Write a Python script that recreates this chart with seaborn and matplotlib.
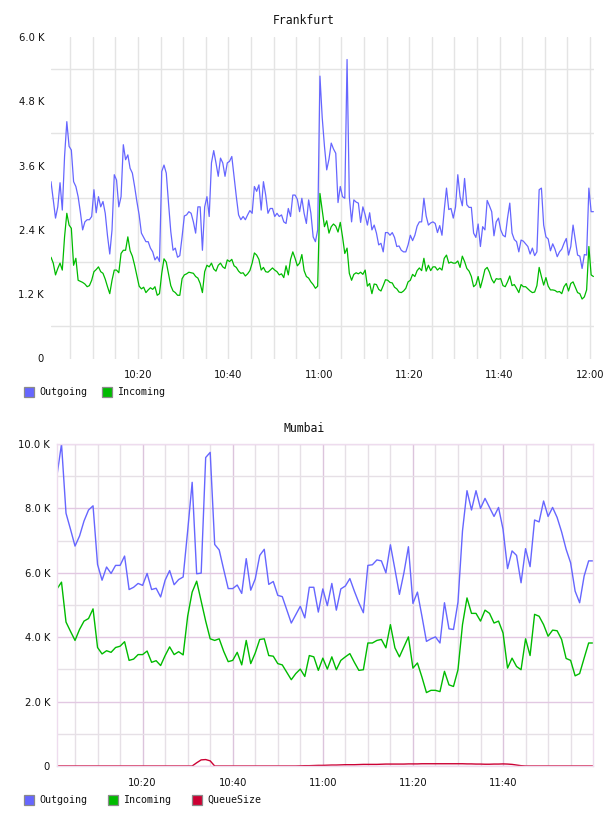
import numpy as np
import pandas as pd
import matplotlib
matplotlib.use("Agg")
import matplotlib.pyplot as plt
import matplotlib.dates as mdates
from matplotlib.patches import Rectangle
from matplotlib.ticker import FuncFormatter
import seaborn as sns

sns.set_theme(style="white")
plt.rcParams['font.family'] = ['DejaVu Sans']

# ---------------- data ----------------
# Frankfurt: 30-second samples starting 10:00:45 (values in K)
fr_start = "2024-01-01 10:00:45"
fr_outgoing = [
    3.30, 2.96, 2.62, 2.83, 3.28, 2.77, 3.77, 4.42, 3.96, 3.89,
    3.30, 3.21, 3.02, 2.73, 2.40, 2.55, 2.59, 2.59, 2.65, 3.15,
    2.72, 3.02, 2.83, 2.93, 2.71, 2.29, 1.95, 2.40, 3.43, 3.33,
    2.83, 3.02, 3.99, 3.71, 3.80, 3.55, 3.46, 3.21, 2.93, 2.68,
    2.34, 2.26, 2.18, 2.18, 2.06, 1.99, 1.84, 1.90, 1.81, 3.49,
    3.61, 3.46, 2.90, 2.37, 2.02, 2.06, 1.89, 1.92, 2.27, 2.66,
    2.68, 2.74, 2.71, 2.55, 2.34, 2.83, 2.83, 2.02, 2.83, 3.02,
    2.65, 3.65, 3.88, 3.65, 3.40, 3.74, 3.65, 3.40, 3.65, 3.68,
    3.77, 3.40, 3.02, 2.68, 2.59, 2.65, 2.59, 2.68, 2.76, 2.71,
    3.21, 3.12, 3.24, 2.77, 3.30, 3.05, 2.71, 2.80, 2.80, 2.65,
    2.71, 2.65, 2.68, 2.55, 2.52, 2.80, 2.65, 3.05, 3.05, 2.97,
    2.74, 2.99, 2.71, 2.52, 2.96, 2.71, 2.27, 2.18, 2.40, 5.27,
    4.50, 3.96, 3.52, 3.72, 4.02, 3.91, 3.83, 2.91, 3.21, 3.02,
    2.99, 5.58, 3.02, 2.55, 2.96, 2.92, 2.90, 2.54, 2.83, 2.68,
    2.49, 2.72, 2.40, 2.49, 2.34, 2.12, 2.15, 1.99, 2.35, 2.35,
    2.30, 2.35, 2.26, 2.09, 2.10, 2.02, 1.99, 1.99, 2.12, 2.30,
    2.20, 2.30, 2.47, 2.55, 2.55, 2.99, 2.66, 2.49, 2.53, 2.55,
    2.52, 2.35, 2.48, 2.30, 2.77, 3.18, 2.78, 2.80, 2.62, 2.83,
    3.43, 3.02, 2.85, 3.36, 2.87, 2.82, 2.82, 2.34, 2.26, 2.51,
    2.09, 2.46, 2.40, 2.95, 2.85, 2.74, 2.29, 2.55, 2.62, 2.40,
    2.30, 2.27, 2.62, 2.90, 2.34, 2.22, 2.18, 1.99, 2.21, 2.19,
    2.14, 2.09, 1.95, 2.06, 1.92, 1.99, 3.15, 3.18, 2.49, 2.27,
    2.23, 2.01, 2.14, 2.04, 1.90, 1.99, 2.04, 2.15, 2.24, 1.93,
    2.09, 2.49, 2.21, 1.93, 1.91, 1.68, 1.94, 1.93, 3.18, 2.74,
    2.74,
]
fr_incoming = [
    1.89, 1.78, 1.56, 1.68, 1.78, 1.65, 2.27, 2.71, 2.49, 2.43,
    1.74, 1.87, 1.46, 1.44, 1.42, 1.39, 1.34, 1.36, 1.46, 1.62,
    1.66, 1.71, 1.62, 1.59, 1.48, 1.34, 1.21, 1.46, 1.65, 1.65,
    1.60, 1.96, 2.02, 2.02, 2.27, 2.01, 1.91, 1.74, 1.54, 1.35,
    1.30, 1.33, 1.23, 1.28, 1.32, 1.29, 1.34, 1.18, 1.21, 1.59,
    1.86, 1.80, 1.58, 1.36, 1.26, 1.23, 1.18, 1.18, 1.49, 1.56,
    1.58, 1.61, 1.60, 1.59, 1.53, 1.50, 1.40, 1.23, 1.62, 1.74,
    1.71, 1.78, 1.67, 1.63, 1.74, 1.78, 1.71, 1.68, 1.84, 1.81,
    1.85, 1.73, 1.70, 1.63, 1.59, 1.60, 1.54, 1.58, 1.64, 1.78,
    1.97, 1.93, 1.85, 1.65, 1.70, 1.62, 1.61, 1.65, 1.69, 1.65,
    1.62, 1.56, 1.58, 1.51, 1.73, 1.56, 1.85, 1.99, 1.87, 1.73,
    1.78, 1.94, 1.64, 1.53, 1.50, 1.43, 1.38, 1.31, 1.35, 3.08,
    2.77, 2.46, 2.57, 2.34, 2.46, 2.51, 2.47, 2.36, 2.54, 2.27,
    1.96, 2.06, 1.59, 1.46, 1.57, 1.60, 1.58, 1.61, 1.57, 1.65,
    1.35, 1.40, 1.21, 1.39, 1.38, 1.29, 1.26, 1.36, 1.47, 1.46,
    1.42, 1.41, 1.33, 1.30, 1.24, 1.23, 1.26, 1.31, 1.43, 1.46,
    1.57, 1.53, 1.64, 1.69, 1.64, 1.87, 1.63, 1.74, 1.64, 1.71,
    1.71, 1.65, 1.69, 1.65, 1.87, 1.93, 1.78, 1.80, 1.78, 1.78,
    1.82, 1.70, 1.91, 1.81, 1.68, 1.63, 1.53, 1.34, 1.38, 1.53,
    1.32, 1.48, 1.66, 1.70, 1.61, 1.48, 1.41, 1.49, 1.48, 1.49,
    1.36, 1.34, 1.43, 1.54, 1.36, 1.38, 1.31, 1.23, 1.38, 1.34,
    1.34, 1.30, 1.26, 1.23, 1.24, 1.36, 1.70, 1.53, 1.37, 1.51,
    1.35, 1.28, 1.28, 1.27, 1.24, 1.25, 1.21, 1.34, 1.40, 1.26,
    1.40, 1.43, 1.33, 1.23, 1.21, 1.11, 1.15, 1.28, 2.09, 1.56,
    1.53,
]

# Mumbai: 1-minute samples starting 10:01 (values in K)
mu_start = "2024-01-01 10:01:00"
mu_outgoing = [
    9.03, 10.0, 7.85, 7.35, 6.83, 7.14, 7.61, 7.95, 8.08, 6.26,
    5.77, 6.18, 5.98, 6.23, 6.23, 6.52, 5.48, 5.55, 5.67, 5.61,
    5.98, 5.48, 5.52, 5.25, 5.77, 6.07, 5.63, 5.79, 5.87, 7.30,
    8.81, 5.97, 5.99, 9.58, 9.74, 6.88, 6.71, 6.10, 5.51, 5.51,
    5.62, 5.36, 6.44, 5.46, 5.81, 6.54, 6.73, 5.64, 5.73, 5.30,
    5.26, 4.85, 4.44, 4.70, 4.96, 4.60, 5.55, 5.55, 4.78, 5.50,
    4.98, 5.67, 4.84, 5.50, 5.59, 5.82, 5.43, 5.07, 4.76, 6.23,
    6.25, 6.40, 6.37, 6.00, 6.87, 6.11, 5.33, 6.00, 6.81, 5.05,
    5.40, 4.65, 3.87, 3.95, 4.01, 3.82, 5.07, 4.26, 4.24, 5.09,
    7.30, 8.55, 7.95, 8.55, 8.00, 8.31, 8.03, 7.75, 8.03, 7.35,
    6.13, 6.68, 6.54, 5.69, 6.75, 6.19, 7.64, 7.58, 8.23, 7.75,
    8.03, 7.72, 7.27, 6.73, 6.31, 5.43, 5.07, 5.90, 6.37, 6.37,
]
mu_incoming = [
    5.50, 5.71, 4.47, 4.18, 3.90, 4.24, 4.50, 4.58, 4.88, 3.68,
    3.48, 3.58, 3.53, 3.68, 3.72, 3.86, 3.28, 3.32, 3.46, 3.46,
    3.57, 3.22, 3.27, 3.12, 3.43, 3.70, 3.46, 3.55, 3.45, 4.65,
    5.40, 5.74, 5.12, 4.50, 3.95, 3.90, 3.95, 3.56, 3.24, 3.28,
    3.53, 3.14, 3.90, 3.18, 3.51, 3.93, 3.95, 3.43, 3.41, 3.18,
    3.14, 2.91, 2.68, 2.87, 3.01, 2.78, 3.43, 3.39, 2.97, 3.35,
    3.01, 3.39, 2.99, 3.28, 3.39, 3.49, 3.22, 2.97, 2.99, 3.82,
    3.82, 3.90, 3.93, 3.67, 4.39, 3.67, 3.39, 3.70, 4.01, 3.04,
    3.20, 2.76, 2.28, 2.35, 2.35, 2.31, 2.94, 2.52, 2.47, 2.99,
    4.39, 5.22, 4.74, 4.74, 4.50, 4.84, 4.74, 4.44, 4.50, 4.13,
    3.04, 3.35, 3.09, 2.99, 3.95, 3.43, 4.71, 4.65, 4.39, 4.03,
    4.22, 4.20, 3.93, 3.34, 3.28, 2.80, 2.87, 3.35, 3.82, 3.82,
]
mu_queue = [
    0, 0, 0, 0, 0, 0, 0, 0, 0, 0,
    0, 0, 0, 0, 0, 0, 0, 0, 0, 0,
    0, 0, 0, 0, 0, 0, 0, 0, 0, 0,
    0.0, 0.10, 0.19, 0.20, 0.16, 0.0, 0, 0, 0, 0,
    0, 0, 0, 0, 0, 0, 0, 0, 0, 0,
    0, 0, 0, 0, 0.005, 0.01, 0.01, 0.015, 0.02, 0.02,
    0.025, 0.03, 0.03, 0.035, 0.04, 0.04, 0.04, 0.045, 0.05, 0.05,
    0.05, 0.05, 0.055, 0.06, 0.06, 0.06, 0.06, 0.06, 0.065, 0.065,
    0.065, 0.07, 0.07, 0.07, 0.07, 0.07, 0.07, 0.07, 0.07, 0.07,
    0.07, 0.065, 0.065, 0.06, 0.06, 0.055, 0.055, 0.06, 0.06, 0.065,
    0.06, 0.05, 0.03, 0.01, 0, 0, 0, 0, 0, 0,
    0, 0, 0, 0, 0, 0, 0, 0, 0, 0,
]

fr_yticks = [0, 1.2, 2.4, 3.6, 4.8, 6.0]
mu_yticks = [0, 2.0, 4.0, 6.0, 8.0, 10.0]
titles = ["Frankfurt", "Mumbai"]

BLUE, GREEN, RED = "#6666ff", "#00bb00", "#cc0033"
palette = {"Outgoing": BLUE, "Incoming": GREEN, "QueueSize": RED}

# ---------------- frames ----------------
fr_time = pd.date_range(fr_start, periods=len(fr_outgoing), freq="30s")
fr = pd.DataFrame({"time": fr_time, "Outgoing": fr_outgoing, "Incoming": fr_incoming})
fr_long = fr.melt("time", var_name="series", value_name="k")

mu_time = pd.date_range(mu_start, periods=len(mu_outgoing), freq="1min")
mu = pd.DataFrame({"time": mu_time, "Outgoing": mu_outgoing,
                   "Incoming": mu_incoming, "QueueSize": mu_queue})
mu_long = mu.melt("time", var_name="series", value_name="k")

# ---------------- figure ----------------
W, H = 608, 816
fig = plt.figure(figsize=(W / 100, H / 100), dpi=100)


def fbox(l, t, r, b):
    return [l / W, 1 - b / H, (r - l) / W, (b - t) / H]


ax1 = fig.add_axes(fbox(51, 37, 594, 358.5))
ax2 = fig.add_axes(fbox(57, 444, 593, 766))

sns.lineplot(data=fr_long, x="time", y="k", hue="series", palette=palette,
             ax=ax1, legend=False, linewidth=0.9, estimator=None)
sns.lineplot(data=mu_long, x="time", y="k", hue="series", palette=palette,
             ax=ax2, legend=False, linewidth=1.0, estimator=None)

kfmt = FuncFormatter(lambda v, p: "0" if abs(v) < 1e-9 else f"{v:.1f} K")

# top axes
ax1.set_xlim(fr_time[0], fr_time[-1] + pd.Timedelta(seconds=8))
ax1.set_ylim(0, 6.0)
ax1.set_yticks(fr_yticks)
ax1.set_yticks([0.6, 1.8, 3.0, 4.2, 5.4], minor=True)
ax1.yaxis.set_major_formatter(kfmt)
ax1.xaxis.set_major_locator(mdates.MinuteLocator(byminute=[0, 20, 40]))
ax1.xaxis.set_minor_locator(mdates.MinuteLocator(byminute=range(0, 60, 5)))
ax1.xaxis.set_major_formatter(mdates.DateFormatter("%H:%M"))
ax1.grid(False)
ax1.yaxis.grid(True, which="minor", color="#e4e4e4", lw=1.0)
ax1.xaxis.grid(True, which="both", color="#e4e4e4", lw=1.0)
ax1.set_axisbelow(True)
for s in ax1.spines.values():
    s.set_visible(False)
ax1.tick_params(axis="both", which="both", length=0)
ax1.tick_params(axis="y", pad=5)
ax1.tick_params(axis="x", pad=8)

# bottom axes (right edge just before 12:00 so no 12:00 label is drawn)
ax2.set_xlim(mu_time[0], mu_time[-1] - pd.Timedelta(seconds=2))
ax2.set_ylim(0, 10.0)
ax2.set_yticks(mu_yticks)
ax2.set_yticks([1, 3, 5, 7, 9], minor=True)
ax2.yaxis.set_major_formatter(kfmt)
ax2.xaxis.set_major_locator(mdates.MinuteLocator(byminute=[0, 20, 40]))
ax2.xaxis.set_minor_locator(mdates.MinuteLocator(byminute=range(0, 60, 5)))
ax2.xaxis.set_major_formatter(mdates.DateFormatter("%H:%M"))
ax2.grid(False)
ax2.yaxis.grid(True, which="major", color="#e2c8e2", lw=1.0)
ax2.yaxis.grid(True, which="minor", color="#e6e0e6", lw=1.0)
ax2.xaxis.grid(True, which="major", color="#dcc4dc", lw=1.0)
ax2.xaxis.grid(True, which="minor", color="#e6e0e6", lw=1.0)
ax2.set_axisbelow(True)
for s in ax2.spines.values():
    s.set_color("#eedcee")
    s.set_linewidth(1.0)
ax2.tick_params(axis="both", which="both", length=0)
ax2.tick_params(axis="y", pad=5)
ax2.tick_params(axis="x", pad=9)

for ax in (ax1, ax2):
    ax.set_xlabel("")
    ax.set_ylabel("")
    for lab in ax.get_xticklabels() + ax.get_yticklabels():
        lab.set_fontsize(7.2)
        lab.set_color("#111111")

# titles
fig.text(0.5, 1 - 20 / H, titles[0], ha="center", va="center",
         family="DejaVu Sans Mono", fontsize=8.3, color="#111111")
fig.text(0.5, 1 - 429 / H, titles[1], ha="center", va="center",
         family="DejaVu Sans Mono", fontsize=8.3, color="#111111")


def legend(items, xs, yc):
    for (name, x) in zip(items, xs):
        fig.add_artist(Rectangle((x / W, 1 - (yc + 5) / H), 10 / W, 10 / H,
                                 transform=fig.transFigure, facecolor=palette[name],
                                 edgecolor="#8a8a8a", lw=0.9))
        fig.text((x + 15) / W, 1 - yc / H, name, ha="left", va="center",
                 family="DejaVu Sans Mono", fontsize=7.2, color="#111111")


legend(["Outgoing", "Incoming"], [24, 102], 392)
legend(["Outgoing", "Incoming", "QueueSize"], [24, 108, 192], 800)

fig.savefig("out.png", dpi=100)
